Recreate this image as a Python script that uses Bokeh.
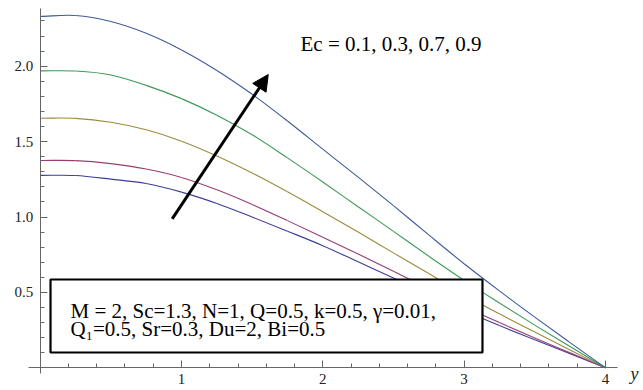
import numpy as np
from bokeh.plotting import figure
from bokeh.models import (FixedTicker, NumeralTickFormatter, BoxAnnotation, Label,
                          Arrow, NormalHead, Range1d)
from bokeh.embed import file_html
from bokeh.resources import INLINE

# ---- data ----
y_vals = [0.0, 0.25, 0.5, 0.75, 1.0, 1.25, 1.5, 1.75, 2.0, 2.25, 2.5, 2.75, 3.0, 3.25, 3.5, 3.75, 4.0]

curve_1 = [1.276, 1.275, 1.251, 1.222, 1.165, 1.090, 1.000, 0.906, 0.810, 0.703, 0.596, 0.488, 0.380, 0.280, 0.186, 0.093, 0.0]
curve_2 = [1.375, 1.374, 1.354, 1.318, 1.262, 1.180, 1.083, 0.976, 0.866, 0.755, 0.640, 0.523, 0.407, 0.300, 0.198, 0.099, 0.0]
curve_3 = [1.655, 1.654, 1.628, 1.578, 1.503, 1.405, 1.292, 1.167, 1.035, 0.900, 0.762, 0.625, 0.485, 0.358, 0.237, 0.118, 0.0]
curve_4 = [1.969, 1.968, 1.942, 1.873, 1.785, 1.675, 1.545, 1.392, 1.232, 1.068, 0.905, 0.740, 0.580, 0.430, 0.283, 0.141, 0.0]
curve_5 = [2.330, 2.336, 2.296, 2.218, 2.108, 1.972, 1.814, 1.637, 1.450, 1.264, 1.075, 0.881, 0.690, 0.510, 0.336, 0.167, 0.0]

curves = [curve_1, curve_2, curve_3, curve_4, curve_5]
colors = ["#3d3d99", "#993d71", "#998b3d", "#3d9956", "#3d5a99"]

x_major = [1, 2, 3, 4]
x_minor = [0.2, 0.4, 0.6, 0.8, 1.2, 1.4, 1.6, 1.8, 2.2, 2.4, 2.6, 2.8, 3.2, 3.4, 3.6, 3.8]
y_major = [0.5, 1.0, 1.5, 2.0]
y_minor = [0.1, 0.2, 0.3, 0.4, 0.6, 0.7, 0.8, 0.9, 1.1, 1.2, 1.3, 1.4, 1.6, 1.7, 1.8, 1.9, 2.1, 2.2, 2.3]

ec_text = "Ec = 0.1, 0.3, 0.7, 0.9"
param_line1 = "M = 2, Sc=1.3, N=1, Q=0.5, k=0.5, \u03b3=0.01,"
param_line2 = "Q\u2081=0.5, Sr=0.3, Du=2, Bi=0.5"

FONT = "Liberation Serif"
AXIS_COLOR = "#666666"


def smooth_segments(xs, ys):
    """Catmull-Rom through the read points, as cubic Bezier segments."""
    x = np.asarray(xs, float)
    y = np.asarray(ys, float)
    xp = np.concatenate([[2 * x[0] - x[1]], x, [2 * x[-1] - x[-2]]])
    yp = np.concatenate([[2 * y[0] - y[1]], y, [2 * y[-1] - y[-2]]])
    return dict(
        x0=xp[1:-2], y0=yp[1:-2], x1=xp[2:-1], y1=yp[2:-1],
        cx0=xp[1:-2] + (xp[2:-1] - xp[:-3]) / 6.0,
        cy0=yp[1:-2] + (yp[2:-1] - yp[:-3]) / 6.0,
        cx1=xp[2:-1] - (xp[3:] - xp[1:-2]) / 6.0,
        cy1=yp[2:-1] - (yp[3:] - yp[1:-2]) / 6.0,
    )


p = figure(width=643, height=390, output_backend="svg", toolbar_location=None,
           x_range=Range1d(-0.281, 4.2696), y_range=Range1d(-0.1505, 2.4357),
           min_border=0, min_border_left=0, min_border_right=0,
           min_border_top=0, min_border_bottom=0)
p.outline_line_color = None
p.grid.visible = False
p.background_fill_color = "white"
p.border_fill_color = "white"

for c, col in zip(curves, colors):
    p.bezier(**smooth_segments(y_vals, c), line_color=col, line_width=1.1)

for ax in (p.xaxis, p.yaxis):
    ax.fixed_location = 0
    ax.axis_line_color = AXIS_COLOR
    ax.major_tick_line_color = AXIS_COLOR
    ax.minor_tick_line_color = AXIS_COLOR
    ax.major_tick_in = 7
    ax.major_tick_out = 0
    ax.minor_tick_in = 4
    ax.minor_tick_out = 0
    ax.major_label_text_font = FONT
    ax.major_label_text_font_size = "15px"
    ax.major_label_text_color = "#222222"

p.xaxis.ticker = FixedTicker(ticks=x_major, minor_ticks=x_minor)
p.yaxis.ticker = FixedTicker(ticks=y_major, minor_ticks=y_minor)
p.xaxis.formatter = NumeralTickFormatter(format="0")
p.yaxis.formatter = NumeralTickFormatter(format="0.0")
p.xaxis.bounds = (-0.083, 4.086)
p.yaxis.bounds = (-0.038, 2.383)
p.xaxis.major_label_standoff = 6
p.yaxis.major_label_standoff = 7

# arrow
p.add_layout(Arrow(end=NormalHead(size=16, fill_color="black", line_color="black", line_width=1),
                   x_start=0.934, y_start=0.988, x_end=1.614, y_end=1.945,
                   line_width=3, line_color="black"))

p.add_layout(Label(x=1.842, y=2.144, text=ec_text, text_font=FONT, text_font_size="21px",
                   text_color="black", text_baseline="alphabetic", text_align="left"))

# parameter box
p.add_layout(BoxAnnotation(left=0.073, right=3.130, bottom=0.1015, top=0.5855,
                           fill_color="white", fill_alpha=1.0,
                           line_color="black", line_width=2.2, line_alpha=1.0))
p.add_layout(Label(x=0.2144, y=0.3753, text=param_line1, text_font=FONT, text_font_size="21px",
                   text_color="black", text_baseline="alphabetic", text_align="left"))
p.add_layout(Label(x=0.2144, y=0.2586, text=param_line2, text_font=FONT, text_font_size="21px",
                   text_color="black", text_baseline="alphabetic", text_align="left"))

# axis name
p.add_layout(Label(x=4.178, y=-0.04, text="y", text_font=FONT, text_font_size="18px",
                   text_font_style="italic", text_color="#222222",
                   text_baseline="alphabetic", text_align="left"))

open("out.html", "w").write(file_html(p, INLINE))
